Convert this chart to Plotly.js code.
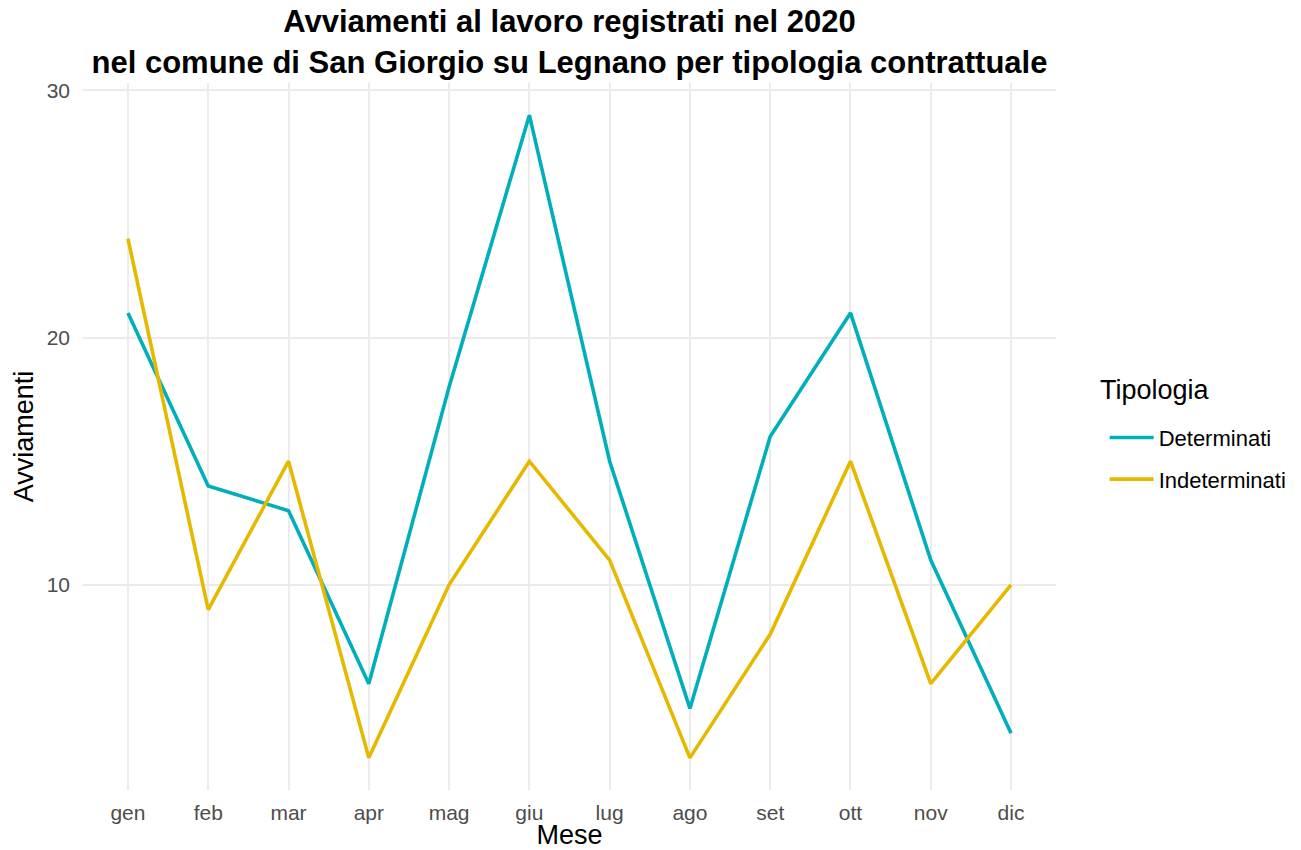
<!DOCTYPE html>
<html>
<head>
<meta charset="utf-8">
<script src="https://cdn.plot.ly/plotly-3.0.1.min.js"></script>
<style>html,body{margin:0;padding:0;background:#fff;}#chart{width:1301px;height:850px;}</style>
</head>
<body>
<div id="chart"></div>
<script>
const mesi = ["gen","feb","mar","apr","mag","giu","lug","ago","set","ott","nov","dic"];
const determinati = [21,14,13,6,18,29,15,5,16,21,11,4];
const indeterminati = [24,9,15,3,10,15,11,3,8,15,6,10];
const serieNomi = ["Determinati","Indeterminati"];
const colori = ["#00AFBB","#E7B800"];
const titoloLegenda = "Tipologia";

const font = "Liberation Sans, Arial, sans-serif";
const traces = [determinati, indeterminati].map((v,i)=>({
  type:"scatter", mode:"lines", x:mesi, y:v, name:serieNomi[i],
  legendgroup:"g"+i,
  line:{color:colori[i], width:3.6}
}));

const layout = {
  width:1301, height:850,
  paper_bgcolor:"#fff", plot_bgcolor:"#fff",
  margin:{l:83, r:245, t:83, b:60, autoexpand:false},
  font:{family:font, color:"#000"},
  title:{text:"<b>Avviamenti al lavoro registrati nel 2020<br>nel comune di San Giorgio su Legnano per tipologia contrattuale</b>",
    font:{family:font, size:31, color:"#000"}, x:0.5, xref:"paper", xanchor:"center", y:0.962, yref:"container", yanchor:"middle"},
  xaxis:{type:"category", range:[-0.56,11.56], showgrid:true, gridcolor:"#EBEBEB", gridwidth:2,
    zeroline:false, showline:false, ticks:"", ticklabelstandoff:8,
    tickfont:{family:font, size:21, color:"#4D4D4D"},
    title:{text:"Mese", font:{family:font, size:27, color:"#000"}, standoff:11}},
  yaxis:{range:[1.7,30.3], tickvals:[10,20,30], showgrid:true, gridcolor:"#EBEBEB", gridwidth:2,
    zeroline:false, showline:false, ticks:"", ticklabelstandoff:12,
    tickfont:{family:font, size:21, color:"#4D4D4D"},
    title:{text:"Avviamenti", font:{family:font, size:27, color:"#000"}, standoff:5}},
  showlegend:true,
  legend:{x:1.05, xanchor:"left", y:0.528, yanchor:"top", traceorder:"grouped", tracegroupgap:10,
    font:{family:font, size:22, color:"#000"}, itemwidth:44},
  annotations:[{text:titoloLegenda, xref:"paper", yref:"paper", x:1.043, y:0.566,
    xanchor:"left", yanchor:"middle", showarrow:false, font:{family:font, size:27, color:"#000"}}]
};
Plotly.newPlot("chart", traces, layout, {displayModeBar:false, staticPlot:true});
</script>
</body>
</html>
